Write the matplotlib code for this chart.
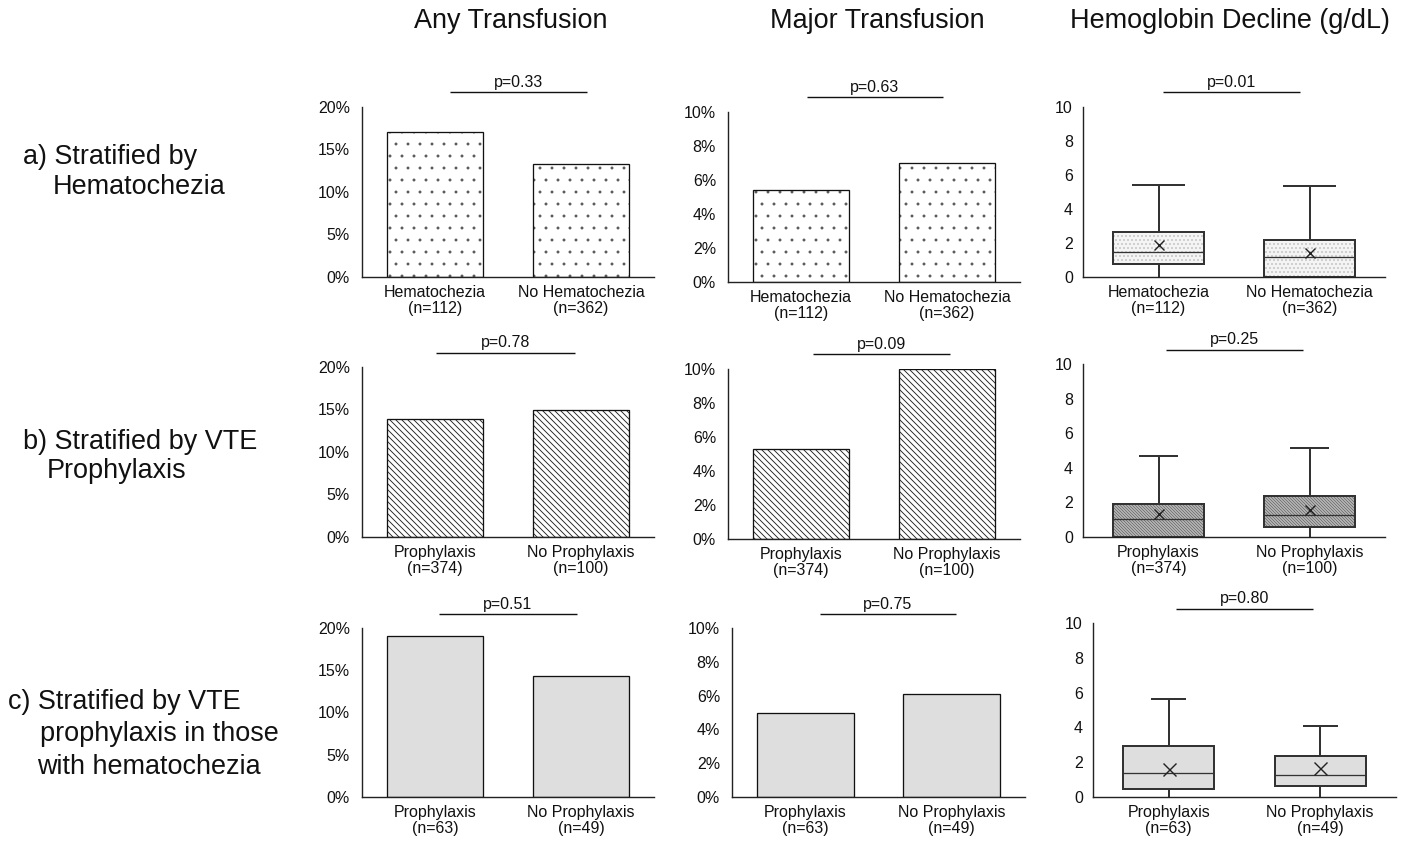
import matplotlib
matplotlib.use("Agg")
import matplotlib.pyplot as plt
from matplotlib.patches import PathPatch

plt.rcParams.update({
    "font.family": ["Liberation Sans", "DejaVu Sans"],
    "font.size": 16,
    "text.color": "#111111",
    "axes.edgecolor": "#222222",
    "xtick.color": "#111111",
    "ytick.color": "#111111",
    "hatch.linewidth": 1.0,
})

W, H = 1405, 841
INK = "#111111"
BS = chr(92)  # backslash, for diagonal hatching

# column / row headings
col_titles = ["Any Transfusion", "Major Transfusion", "Hemoglobin Decline (g/dL)"]
row_titles = [
    ["a) Stratified by", "Hematochezia"],
    ["b) Stratified by VTE", "Prophylaxis"],
    ["c) Stratified by VTE", "prophylaxis in those", "with hematochezia"],
]

# group labels per row
groups = [
    ["Hematochezia\n(n=112)", "No Hematochezia\n(n=362)"],
    ["Prophylaxis\n(n=374)", "No Prophylaxis\n(n=100)"],
    ["Prophylaxis\n(n=63)", "No Prophylaxis\n(n=49)"],
]

# percentages per row
any_transfusion = [[17.0, 13.3], [13.9, 15.0], [19.0, 14.3]]
major_transfusion = [[5.4, 7.0], [5.3, 10.0], [5.0, 6.1]]

# hemoglobin decline summaries per row: [group1, group2]
hb_q1 = [[0.76, 0.0], [0.0, 0.58], [0.46, 0.63]]
hb_median = [[1.47, 1.18], [1.04, 1.27], [1.38, 1.26]]
hb_q3 = [[2.65, 2.18], [1.90, 2.37], [2.93, 2.36]]
hb_mean = [[1.88, 1.41], [1.33, 1.56], [1.61, 1.67]]
hb_whislo = [[0.0, 0.0], [0.0, 0.0], [0.0, 0.0]]
hb_whishi = [[5.41, 5.35], [4.68, 5.14], [5.63, 4.08]]

p_values = [["0.33", "0.63", "0.01"],
            ["0.78", "0.09", "0.25"],
            ["0.51", "0.75", "0.80"]]

# panel boxes in pixels (left, top, right, bottom)
panels = [
    [(362, 107, 654, 277), (728, 112, 1020, 282), (1083, 107, 1385, 277)],
    [(362, 367, 654, 537), (728, 369, 1020, 539), (1083, 364, 1385, 537)],
    [(362, 628, 654, 797), (732, 628, 1025, 797), (1093, 623, 1396, 797)],
]
# x-extent of the significance bar (data units)
p_spans = [
    [(0.10, 1.04), (0.04, 0.97), (0.03, 0.94)],
    [(0.01, 0.96), (0.08, 1.02), (0.05, 0.96)],
    [(0.03, 0.97), (0.10, 1.03), (0.05, 0.95)],
]

bar_face = ["white", "white", "#dedede"]
bar_hatch = [".", BS * 4, None]
bar_hatch_col = ["#555555", "#222222", "#dedede"]
bar_hatch_lw = [0.4, 0.9, 1.0]
box_face = ["#f4f4f4", "#b8b8b8", "#dedede"]
box_hatch = ["...", BS * 8, None]
box_hatch_col = ["#8a8a8a", "#5a5a5a", "#dedede"]
box_hatch_lw = [0.4, 0.6, 1.0]
cap_w = [0.34, 0.25, 0.22]
mean_size = [10, 10, 13]

fig = plt.figure(figsize=(W / 72, H / 72), dpi=72)


def make_axes(box):
    x0, y0, x1, y1 = box
    return fig.add_axes([x0 / W, 1 - y1 / H, (x1 - x0) / W, (y1 - y0) / H])


def set_hatch_lw(patches, lw):
    for p in patches:
        if hasattr(p, "set_hatch_linewidth"):
            p.set_hatch_linewidth(lw)


def style(ax, labels, ymax, step, fmt, ypad):
    ax.set_xlim(-0.5, 1.5)
    ax.set_ylim(0, ymax)
    ticks = [i * step for i in range(int(round(ymax / step)) + 1)]
    ax.set_yticks(ticks)
    ax.set_yticklabels([fmt.format(t) for t in ticks])
    ax.set_xticks([0, 1])
    ax.set_xticklabels(labels, linespacing=1.1)
    for s in ("top", "right"):
        ax.spines[s].set_visible(False)
    for s in ("left", "bottom"):
        ax.spines[s].set_linewidth(1.4)
    ax.tick_params(length=0, labelsize=16)
    ax.tick_params(axis="y", pad=ypad)
    ax.tick_params(axis="x", pad=8)
    ax.patch.set_alpha(0)


def p_bar(ax, span, text):
    h = ax.get_window_extent().height
    y = 1 + 14.5 / h
    ax.plot(span, [y, y], transform=ax.get_xaxis_transform(), color=INK,
            lw=1.4, clip_on=False, solid_capstyle="butt")
    ax.text(sum(span) / 2, y + 2 / h, "p=" + text, transform=ax.get_xaxis_transform(),
            ha="center", va="bottom", fontsize=16)


def rate_bars(ax, r, values):
    # hatched fill first, black outline on top
    with plt.rc_context({"hatch.linewidth": bar_hatch_lw[r]}):
        fill = ax.bar([0, 1], values, width=0.66, color=bar_face[r],
                      edgecolor=bar_hatch_col[r], hatch=bar_hatch[r], lw=0, zorder=2)
    set_hatch_lw(fill, bar_hatch_lw[r])
    ax.bar([0, 1], values, width=0.66, fill=False, edgecolor="#111111",
           lw=1.3, zorder=3)


for r in range(3):
    ax = make_axes(panels[r][0])
    rate_bars(ax, r, any_transfusion[r])
    style(ax, groups[r], 20, 5, "{:g}%", 12)
    p_bar(ax, p_spans[r][0], p_values[r][0])

    ax = make_axes(panels[r][1])
    rate_bars(ax, r, major_transfusion[r])
    style(ax, groups[r], 10, 2, "{:g}%", 12)
    p_bar(ax, p_spans[r][1], p_values[r][1])

    # hemoglobin decline
    ax = make_axes(panels[r][2])
    stats = []
    for g in range(2):
        stats.append(dict(q1=hb_q1[r][g], med=hb_median[r][g], q3=hb_q3[r][g],
                          mean=hb_mean[r][g], whislo=hb_whislo[r][g],
                          whishi=hb_whishi[r][g], fliers=[]))
    with plt.rc_context({"hatch.linewidth": box_hatch_lw[r]}):
        parts = ax.bxp(stats, positions=[0, 1], widths=0.6, patch_artist=True,
                       showmeans=True, showfliers=False, capwidths=[cap_w[r]] * 2,
                       boxprops=dict(facecolor=box_face[r], edgecolor=box_hatch_col[r],
                                     hatch=box_hatch[r], lw=0),
                       medianprops=dict(color="#333333", lw=1.3),
                       whiskerprops=dict(color="#333333", lw=2),
                       capprops=dict(color="#333333", lw=2),
                       meanprops=dict(marker="x", markeredgecolor="#222222",
                                      markersize=mean_size[r], markeredgewidth=1.4),
                       manage_ticks=False)
    set_hatch_lw(parts["boxes"], box_hatch_lw[r])
    # lower caps sit on the baseline; only the upper ones are shown
    for cap in parts["caps"][0::2]:
        cap.set_visible(False)
    for b in parts["boxes"]:
        ax.add_patch(PathPatch(b.get_path(), fill=False, edgecolor="#333333",
                               lw=2, zorder=b.get_zorder() + 0.1))
    style(ax, groups[r], 10, 2, "{:g}", 10)
    p_bar(ax, p_spans[r][2], p_values[r][2])

# headings
for x, t in zip([511, 877, 1230], col_titles):
    fig.text(x / W, 1 - 21 / H, t, ha="center", va="center", fontsize=27)

row_lines = [
    [(23, 157), (53, 187)],
    [(23, 442), (47, 471)],
    [(8, 702), (40, 734), (37, 767)],
]
for lines, pos in zip(row_titles, row_lines):
    for t, (x, y) in zip(lines, pos):
        fig.text(x / W, 1 - y / H, t, ha="left", va="center", fontsize=27)

fig.savefig("out.png", dpi=72)
